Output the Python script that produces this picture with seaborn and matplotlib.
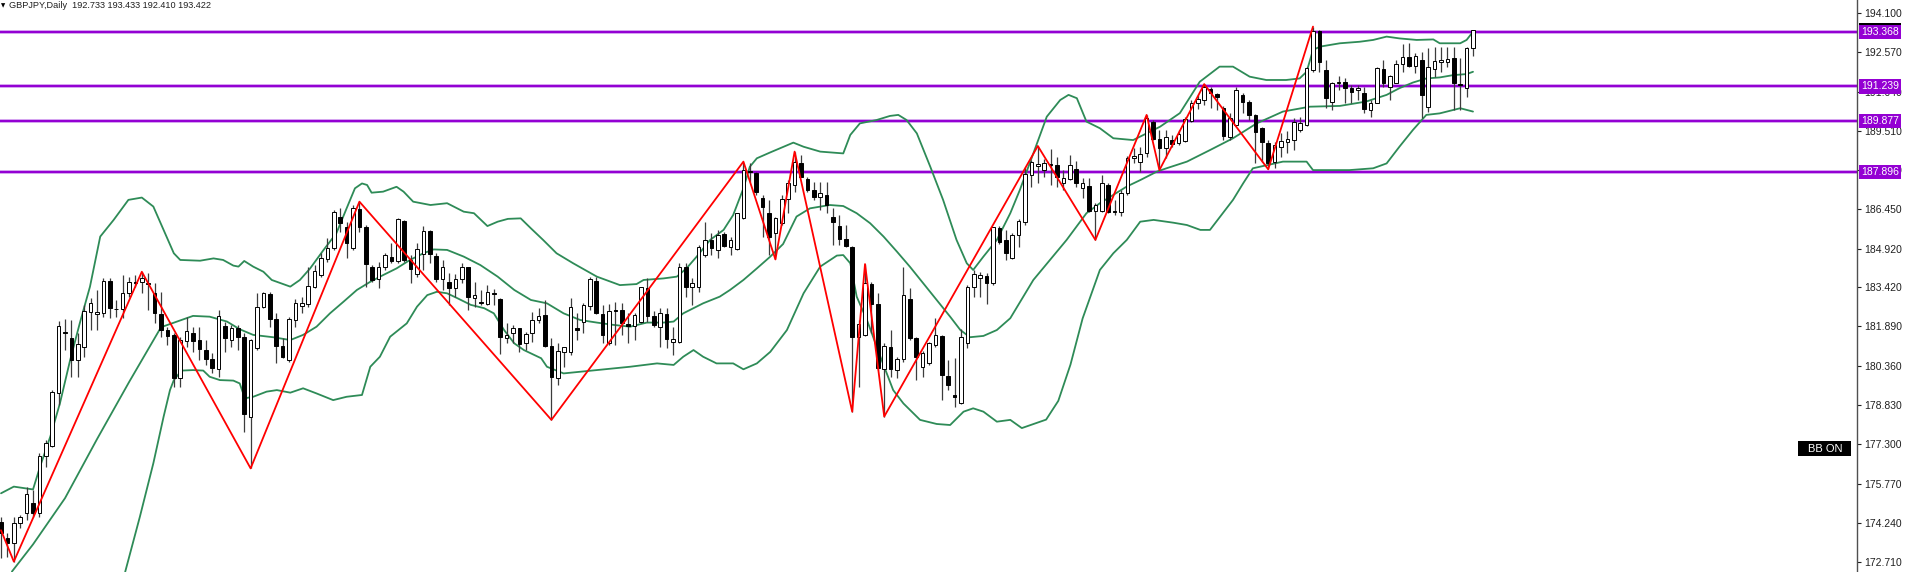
import numpy as np
import pandas as pd
import matplotlib
matplotlib.use("Agg")
import matplotlib.pyplot as plt
from matplotlib.patches import Rectangle
import seaborn as sns

# ---------------- data ----------------
symbol_title = "GBPJPY,Daily  192.733 193.433 192.410 193.422"

opens = [174.28,173.64,173.44,174.25,174.61,175.00,174.61,176.86,177.25,179.28,
         181.67,181.43,180.58,181.10,182.47,182.36,182.40,183.66,182.57,182.56,
         183.18,183.61,183.61,183.57,183.18,182.36,181.75,181.56,179.87,181.34,
         181.62,181.36,180.97,180.61,180.22,181.91,181.36,181.82,181.49,178.37,
         181.04,182.66,183.14,182.18,181.14,180.58,182.14,182.69,182.76,183.44,
         183.89,184.50,184.93,186.14,185.75,184.93,186.45,185.75,184.22,183.73,
         184.19,184.61,184.44,186.01,184.48,183.93,184.71,185.61,184.63,183.73,
         183.62,183.37,183.73,184.19,183.01,182.86,182.76,183.21,182.96,181.45,
         181.62,181.82,181.23,181.62,182.14,182.34,181.13,179.87,180.88,180.91,
         181.84,182.08,182.69,183.66,182.36,181.23,182.51,182.53,181.99,181.91,
         182.08,183.40,182.30,181.88,182.38,181.30,181.27,184.22,183.41,183.41,
         184.67,185.26,184.87,185.49,185.00,184.89,186.10,187.93,187.88,186.91,
         186.30,185.52,185.91,186.84,187.40,188.27,187.63,187.21,186.92,187.01,
         186.14,185.80,185.28,185.00,181.47,181.56,183.54,182.76,180.22,181.08,
         180.19,180.61,182.95,181.43,180.32,180.45,181.17,181.53,179.96,179.22,
         178.92,181.23,183.41,183.76,183.86,183.57,185.71,185.26,184.54,185.45,
         185.97,187.79,188.14,187.98,188.22,188.17,187.47,187.62,188.01,187.27,
         187.36,186.39,186.39,187.40,186.37,186.36,187.08,188.44,188.31,188.63,
         189.87,189.18,188.83,189.15,189.05,189.11,189.91,190.61,190.71,191.13,
         190.94,190.41,189.28,189.74,190.91,190.65,190.13,189.61,189.05,188.28,
         188.89,189.09,189.15,189.54,189.74,191.88,193.41,191.88,190.65,191.36,
         191.43,191.17,191.10,191.00,190.32,190.61,191.91,191.23,191.39,192.11,
         192.37,192.04,192.27,190.45,191.91,192.18,192.18,192.33,191.30,191.17,
         192.733]
highs = [174.48,173.83,174.48,174.54,175.65,175.52,176.95,177.47,179.41,182.10,
         182.17,182.14,181.62,182.72,182.98,183.31,183.76,183.76,182.92,183.89,
         183.83,183.89,184.02,183.98,183.57,183.24,181.88,181.62,181.49,182.27,
         181.88,181.86,181.36,180.84,182.53,182.08,181.95,181.95,181.62,181.39,
         183.21,183.24,183.24,182.40,181.43,182.27,182.95,183.05,184.22,184.28,
         184.74,185.32,186.43,186.49,185.97,186.62,186.75,185.84,184.28,184.41,
         184.74,185.13,186.10,186.04,184.67,185.13,185.80,185.65,184.74,184.48,
         183.96,183.93,184.37,184.22,183.63,183.31,183.50,183.34,182.99,182.01,
         181.95,181.84,181.69,182.47,182.60,182.92,181.43,181.23,181.10,182.99,
         182.40,182.82,183.83,183.83,182.73,182.76,182.86,182.82,182.40,182.40,
         183.44,183.76,182.50,182.60,182.60,181.88,184.35,184.35,183.76,185.06,
         185.97,185.52,185.65,185.58,185.39,186.32,188.31,188.25,187.92,187.01,
         186.82,186.17,187.01,187.60,188.70,188.57,187.70,187.53,187.53,187.53,
         186.49,186.23,185.84,185.02,182.14,184.32,183.63,183.18,181.23,181.75,
         180.71,184.22,183.38,181.47,180.95,181.30,182.21,181.56,180.58,180.65,
         181.78,183.50,184.09,184.02,183.96,185.78,185.80,185.65,185.52,186.06,
         188.09,188.37,188.92,188.40,188.80,188.48,187.98,188.57,188.35,187.66,
         187.66,186.69,187.79,187.47,186.82,187.21,188.53,188.83,188.89,190.13,
         189.93,189.54,189.54,189.35,189.54,190.06,190.71,190.91,191.33,191.20,
         190.97,190.48,190.19,191.20,190.97,190.71,190.17,189.67,189.15,189.09,
         189.41,189.52,190.00,190.06,192.01,193.57,193.44,192.27,191.40,191.65,
         191.56,191.30,191.30,191.20,190.71,192.01,192.27,191.68,192.27,192.89,
         192.94,192.53,192.59,192.72,192.79,192.79,192.79,192.79,192.33,192.79,
         193.433]
lows = [172.86,172.92,172.73,174.03,174.35,174.48,174.48,176.43,177.21,178.83,
        180.97,179.93,179.93,180.71,181.75,181.75,182.27,182.21,182.27,182.21,
        183.05,183.44,183.18,182.53,182.01,181.49,181.17,179.54,179.54,181.10,
        180.91,180.58,180.39,180.06,179.93,180.91,181.10,180.97,177.79,176.36,
        180.97,182.60,181.88,180.45,180.65,180.52,181.88,182.40,182.66,183.37,
        183.83,184.41,184.87,185.58,184.54,184.87,185.58,183.44,183.63,183.37,
        184.09,184.37,184.35,184.41,183.57,183.83,184.09,184.35,183.63,183.31,
        182.73,183.05,183.57,182.53,182.66,182.73,182.73,182.73,180.82,181.23,
        181.23,180.91,180.97,181.30,182.01,181.10,178.25,179.61,180.32,180.78,
        181.36,181.62,182.53,182.38,181.23,181.17,181.17,181.56,181.23,181.36,
        182.01,182.08,181.88,181.10,181.04,180.78,181.23,183.05,182.73,183.25,
        184.61,184.67,184.54,185.00,184.67,184.87,186.06,187.53,187.01,185.39,
        184.67,184.50,185.84,186.30,187.14,187.70,187.14,186.82,186.43,186.30,
        185.06,185.06,185.00,178.57,179.54,181.50,181.62,180.20,178.38,179.93,
        179.87,180.52,181.36,179.80,179.93,180.40,181.10,179.03,179.41,178.77,
        178.88,181.04,183.05,183.05,182.76,183.50,185.10,184.48,184.50,185.00,
        185.84,187.34,187.47,187.72,187.40,187.34,187.21,187.60,187.34,186.88,
        186.36,185.26,186.36,186.30,186.23,186.19,187.01,188.24,187.92,188.50,
        189.15,187.98,188.44,188.89,188.96,189.09,189.87,190.35,190.52,190.39,
        190.32,189.15,189.15,189.70,190.19,189.93,188.24,188.31,188.01,188.05,
        188.50,188.63,188.76,189.48,189.70,191.81,191.81,190.39,190.32,191.10,
        190.58,190.58,190.71,190.19,190.06,190.58,191.23,190.71,191.36,191.81,
        192.01,191.75,190.00,190.26,191.62,191.81,192.01,190.32,190.32,190.84,
        192.410]
closes = [173.83,173.47,174.22,174.48,175.36,174.61,176.86,177.36,179.32,181.91,
          181.62,180.58,181.19,182.49,182.79,182.44,183.67,182.60,182.55,183.18,
          183.61,183.60,183.79,183.53,182.43,181.75,181.52,179.87,181.36,181.71,
          181.34,181.00,180.61,180.26,182.31,181.43,181.82,181.49,178.48,181.36,
          182.63,183.18,182.18,181.14,180.71,182.18,182.79,182.82,183.47,184.06,
          184.57,184.93,186.34,185.93,185.15,186.52,185.75,184.32,183.70,184.19,
          184.67,184.44,186.06,184.48,184.11,184.89,185.61,184.71,183.73,184.19,
          183.37,183.74,184.19,183.05,183.12,182.79,183.24,183.14,181.47,181.56,
          181.82,181.21,181.60,182.14,182.30,181.14,179.93,180.95,181.08,182.66,
          181.75,182.73,183.73,182.40,181.56,182.50,182.50,182.01,181.91,182.34,
          183.41,182.30,181.95,182.40,181.40,181.40,184.22,183.44,183.60,185.00,
          185.26,184.93,185.45,185.04,185.26,186.30,187.98,187.91,187.14,186.56,
          185.39,186.10,186.84,187.47,188.31,187.72,187.21,186.92,187.08,186.62,
          185.97,185.28,185.02,181.49,181.99,183.57,182.76,180.26,181.13,180.22,
          180.61,183.12,181.43,180.71,180.84,181.23,181.56,180.00,179.61,179.15,
          181.49,183.41,183.93,183.89,183.60,185.75,185.19,184.74,185.45,186.00,
          187.83,188.31,188.22,188.24,188.17,187.72,187.66,188.18,187.47,187.47,
          186.39,186.62,187.49,186.36,186.36,187.10,188.44,188.53,188.61,190.00,
          189.19,188.83,189.26,189.00,189.37,189.96,190.61,190.74,191.23,190.97,
          190.81,189.31,190.00,191.10,190.65,190.13,189.48,189.09,188.24,188.96,
          189.13,189.18,189.87,189.83,191.94,193.41,192.20,190.78,191.36,191.43,
          191.17,191.04,191.17,190.35,190.61,191.94,191.36,191.65,192.11,192.37,
          192.04,192.43,190.91,192.01,192.24,192.27,192.31,191.36,191.29,192.75,
          193.422]

bb_upper_bar = [0,2,5,6.1,7.7,9.2,10.8,12.3,13.9,15.5,17.6,19.9,22.0,23.8,25.4,27.0,28.0,31.1,33.2,34.7,
                36.3,37.1,38.0,39.4,41.0,42.3,45.2,46.7,48.3,50.4,52.4,54.0,55.3,56.4,57.2,57.9,59.7,61.8,62.9,64.4,
                67.1,69.7,72.3,73.9,76.0,77.6,79.2,81.2,82.8,84.7,86.8,89.4,93.1,96.7,99.3,100.4,103.5,105.6,107.1,108.7,
                110.8,112.9,114.4,116.0,117.0,118.1,120.2,123.8,125.4,128.0,131.6,132.7,134.2,136.8,138.9,140.2,141.5,143.1,145.2,147.2,
                149.3,150.9,151.9,153.5,155.6,157.7,159.2,161.3,163.4,165.5,166.8,168.1,169.6,171.7,173.8,176.9,179.0,181.1,184.2,187.3,
                190.4,192.5,195.1,197.7,200.8,202.9,204.0,205.0,206.1,209.2,212.3,214.4,216.5,218.5,221.2,223.8,224.8,228.0,229.0,230.0]
bb_upper_val = [175.39,175.65,175.54,176.43,177.60,178.89,180.58,182.01,183.44,185.39,186.04,186.82,186.91,186.56,185.65,184.74,184.48,184.45,184.54,184.48,
                184.26,184.22,184.44,184.22,184.02,183.70,183.44,183.70,184.15,184.87,185.52,186.49,187.27,187.46,187.40,187.10,187.14,187.33,187.14,186.75,
                186.62,186.69,186.36,186.30,185.80,185.97,186.08,186.10,185.71,185.26,184.74,184.35,183.83,183.50,183.54,183.70,183.76,183.83,184.15,184.61,
                185.26,185.65,186.23,187.27,188.11,188.44,188.67,189.05,188.89,188.70,188.63,189.35,189.80,189.93,190.09,190.13,189.93,189.41,188.11,186.82,
                185.26,184.35,184.09,184.61,185.26,186.30,187.21,188.63,190.06,190.71,190.91,190.78,189.87,189.61,189.22,189.15,189.41,189.67,190.20,191.42,
                192.01,192.01,191.62,191.49,191.49,191.55,191.81,192.66,192.79,192.92,192.98,193.05,193.18,193.11,193.05,193.07,192.92,192.92,193.05,193.37]

bb_mid_bar = [1.7,5,10,15,20,25,30,32.6,35.3,37.3,39.4,42.5,45.2,47.2,49.3,51.4,53.5,55.6,57.7,59.7,
              61.8,63.9,66.0,67.6,69.7,72.3,74.9,77.6,80.2,82.8,85.3,87.9,90.5,93.1,95.7,98.3,100.9,103.5,105.1,106.6,
              109.7,112.3,113.9,116.0,118.1,120.2,122.2,124.3,126.4,129.5,131.6,133.7,135.8,137.9,140.0,142.0,144.1,146.2,148.3,149.9,
              151.4,153.5,155.6,157.7,161.3,166.5,169.6,171.7,175.9,178.0,180.6,182.1,185.3,188.9,192.5,196.2,200.3,204.5,209.2,213.3,
              216.5,218.5,220.6,222.7,224.8,226.9,229.0,230.0]
bb_mid_val = [172.34,173.40,175.20,177.50,179.72,181.86,182.30,182.27,182.08,181.78,181.56,181.47,181.36,181.56,181.88,182.40,182.85,183.31,183.63,183.89,
              184.15,184.48,184.74,184.89,184.87,184.61,184.28,183.83,183.31,182.92,182.79,182.40,182.14,182.04,181.95,181.88,182.04,182.04,182.08,182.40,
              182.79,183.05,183.31,183.70,184.15,184.61,185.10,186.17,186.49,186.62,186.58,186.30,185.91,185.39,184.80,184.22,183.57,182.92,182.27,181.75,
              181.47,181.52,181.75,182.21,183.70,185.26,186.30,186.69,187.34,187.59,187.92,188.05,188.31,188.76,189.22,189.80,190.26,190.45,190.48,190.65,
              190.91,191.17,191.39,191.55,191.59,191.68,191.72,191.81]

bb_lower_bar = [19.4,21.7,23.8,25.4,26.4,27.0,28.2,30.0,31.6,32.6,34.2,36.3,37.3,38.1,39.4,41.5,43.1,45.2,47.2,49.3,
                51.9,54.0,56.4,57.7,59.2,60.8,63.4,65.0,66.6,68.1,69.7,71.3,73.4,75.5,77.0,78.6,80.2,81.7,84.4,85.3,
                87.9,93.1,98.3,102.5,105.1,106.6,108.2,109.7,111.8,114.4,116.0,118.1,120.2,122.8,125.4,128.0,130.6,131.6,132.7,133.7,
                135.3,137.4,139.4,141.0,143.6,146.2,148.3,150.4,151.9,153.5,155.6,157.7,159.5,163.3,165.2,167.1,169.0,171.7,173.8,175.9,
                178.0,180.1,183.2,185.3,187.4,188.9,192.5,194.1,195.6,200.3,204.0,205.0,210.7,214.4,216.5,218.5,220.6,222.7,224.8,228.0,230.0]
bb_lower_val = [172.33,174.48,176.56,178.37,179.41,179.80,180.17,180.19,180.17,179.93,179.80,179.78,179.67,179.09,179.15,179.35,179.41,179.31,179.48,179.28,
                179.02,179.15,179.22,180.32,180.71,181.49,182.01,182.66,183.11,183.24,183.18,182.99,182.73,182.60,182.40,181.75,181.23,180.97,180.65,180.32,
                180.06,180.19,180.32,180.45,180.39,180.71,180.97,180.71,180.45,180.45,180.22,180.45,180.90,181.75,183.18,184.22,184.65,184.67,184.35,183.05,
                182.14,180.71,179.41,178.89,178.25,178.09,178.05,178.57,178.70,178.57,178.18,178.25,177.93,178.26,178.99,180.40,182.20,184.09,184.74,185.26,
                185.97,186.04,185.93,185.84,185.65,185.65,186.82,187.47,188.05,188.31,188.31,187.98,187.98,188.05,188.24,188.89,189.54,190.13,190.19,190.39,190.26]

zigzag_bar = [0, 2, 22, 39, 56, 86, 116, 121, 124, 133, 135, 138, 162, 171, 179, 181, 188, 198, 205]
zigzag_val = [173.95, 172.73, 184.02, 176.36, 186.75, 178.25, 188.31, 184.50, 188.70, 178.57,
              184.32, 178.38, 188.92, 185.26, 190.13, 187.98, 191.33, 188.01, 193.57]

hline_levels = [193.368, 191.239, 189.877, 187.896]
current_price = 193.422

tick_values = [194.100, 192.570, 191.040, 189.510, 187.980, 186.450, 184.920, 183.420,
               181.890, 180.360, 178.830, 177.300, 175.770, 174.240, 172.710]
tick_labels = ["194.100", "192.570", "191.040", "189.510", "187.980", "186.450", "184.920", "183.420",
               "181.890", "180.360", "178.830", "177.300", "175.770", "174.240", "172.710"]

# ---------------- figure ----------------
sns.set_theme(style="white")
plt.rcParams['font.family'] = ['Liberation Sans', 'DejaVu Sans']

W, H = 1907, 572
fig = plt.figure(figsize=(W / 100, H / 100), dpi=100)
fig.patch.set_facecolor("white")
AX_W = 1857
ax = fig.add_axes([0, 0, AX_W / W, 1])
ax.set_facecolor("white")

df = pd.DataFrame({"bar": np.arange(len(closes)), "open": opens, "high": highs,
                   "low": lows, "close": closes})

ax.set_xlim(-0.16, (AX_W - 1) / 6.4)
ax.set_ylim(172.324, 194.606)

# horizontal levels (purple)
for lv in hline_levels:
    ax.axhline(lv, color="#d6a8f2", lw=2.8, zorder=1)
    ax.axhline(lv, color="#9400d3", lw=1.5, zorder=1.1)

# bands
bands = [(bb_upper_bar, bb_upper_val), (bb_mid_bar, bb_mid_val), (bb_lower_bar, bb_lower_val)]
for bx, by in bands:
    sns.lineplot(x=bx, y=by, ax=ax, color="#2e8b57", lw=1.3, estimator=None,
                 sort=False, zorder=2)

# candles
up = df["close"] >= df["open"]
ax.vlines(df["bar"], df["low"], df["high"], color="#3c3c3c", lw=0.9, zorder=3)
body_lo = np.minimum(df["open"], df["close"])
body_h = np.maximum(np.abs(df["close"] - df["open"]), 0.025)
ax.bar(df["bar"][up], body_h[up], bottom=body_lo[up], width=0.58,
       color="white", edgecolor="black", linewidth=0.7, zorder=4)
ax.bar(df["bar"][~up], body_h[~up], bottom=body_lo[~up], width=0.58,
       color="black", edgecolor="black", linewidth=0.7, zorder=4)

# zigzag
sns.lineplot(x=zigzag_bar, y=zigzag_val, ax=ax, color="#ff0000", lw=1.3,
             estimator=None, sort=False, zorder=5)

# axis styling
for s in ["top", "left", "bottom"]:
    ax.spines[s].set_visible(False)
ax.spines["right"].set_color("#505050")
ax.spines["right"].set_linewidth(1.0)
ax.set_xticks([])
ax.yaxis.tick_right()
ax.set_yticks(tick_values)
ax.set_yticklabels(tick_labels)
ax.tick_params(axis="y", direction="out", length=3, width=0.8, pad=2,
               labelsize=7.5, colors="#202020")
ax.set_xlabel("")
ax.set_ylabel("")
if ax.get_legend():
    ax.get_legend().remove()

# price labels on the axis
ax.annotate(f"{current_price:.3f}", xy=(1.0, current_price),
            xycoords=("axes fraction", "data"), xytext=(4, 0),
            textcoords="offset pixels", ha="left", va="center", fontsize=7.5,
            color="white", zorder=10, annotation_clip=False,
            bbox=dict(boxstyle="square,pad=0.2", fc="black", ec="none"))
for lv in hline_levels:
    ax.annotate(f"{lv:.3f}", xy=(1.0, lv), xycoords=("axes fraction", "data"),
                xytext=(4, 0), textcoords="offset pixels", ha="left", va="center",
                fontsize=7.5, color="white", zorder=11, annotation_clip=False,
                bbox=dict(boxstyle="square,pad=0.2", fc="#9400d3", ec="none"))

# title
fig.text(1 / W, 1 - 6 / H, "\u25BC", fontsize=4, color="black", va="center",
         ha="left", family=["DejaVu Sans"])
fig.text(9 / W, 1 - 6 / H, symbol_title, fontsize=6.6, color="#202020",
         va="center", ha="left")

# BB ON badge
fig.add_artist(Rectangle((1798 / W, 1 - 456 / H), 53 / W, 15 / H,
                         transform=fig.transFigure, facecolor="black",
                         edgecolor="none", zorder=20))
fig.text(1825 / W, 1 - 448.5 / H, "BB ON", fontsize=8, color="white",
         ha="center", va="center", zorder=21)

fig.savefig("out.png", dpi=100, facecolor="white")
